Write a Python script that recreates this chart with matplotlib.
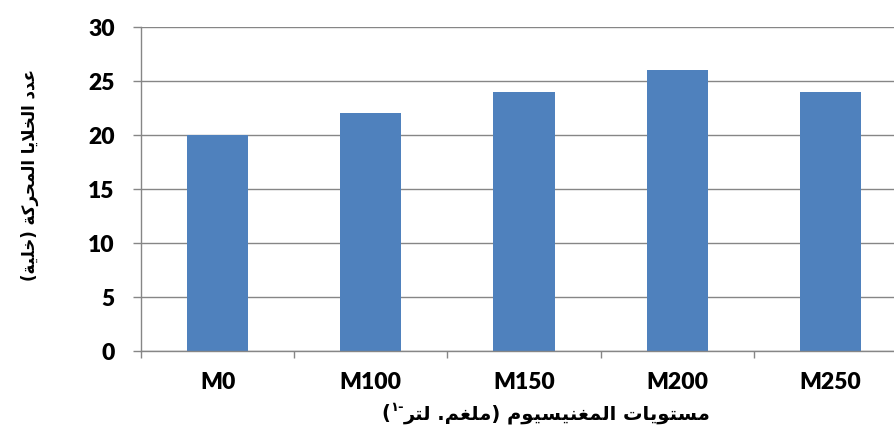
import numpy as np
import matplotlib.pyplot as plt

levels = ['M0', 'M100', 'M150', 'M200', 'M250']
cells = [20, 22, 24, 26, 24]
yticks = [0, 5, 10, 15, 20, 25, 30]

ylabel = 'عدد الخلايا المحركة (خلية)'
xlabel = 'مستويات المغنيسيوم (ملغم. لتر'
xlabel_sup = '-١'

# Arabic presentation forms: first code point of each letter
# dual-joining letters have 4 forms (isol, fin, init, medi), right-joining have 2
DUAL = {'ب': 0xFE8F, 'ت': 0xFE95, 'ح': 0xFEA1, 'خ': 0xFEA5, 'س': 0xFEB1,
        'ع': 0xFEC9, 'غ': 0xFECD, 'ك': 0xFED9, 'ل': 0xFEDD, 'م': 0xFEE1,
        'ن': 0xFEE5, 'ي': 0xFEF1}
RIGHT = {'ا': 0xFE8D, 'ة': 0xFE93, 'د': 0xFEA9, 'ر': 0xFEAD, 'و': 0xFEED}
MIRROR = {'(': ')', ')': '('}


def shape(s):
    out = []
    i = 0
    while i < len(s):
        c = s[i]
        joins_prev = i > 0 and s[i - 1] in DUAL
        if c == 'ل' and i + 1 < len(s) and s[i + 1] == 'ا':
            out.append(chr(0xFEFC if joins_prev else 0xFEFB))
            i += 2
            continue
        nxt = s[i + 1] if i + 1 < len(s) else ''
        joins_next = nxt in DUAL or nxt in RIGHT
        if c in DUAL:
            form = {(False, False): 0, (True, False): 1,
                    (False, True): 2, (True, True): 3}[(joins_prev, joins_next)]
            out.append(chr(DUAL[c] + form))
        elif c in RIGHT:
            out.append(chr(RIGHT[c] + (1 if joins_prev else 0)))
        else:
            out.append(c)
        i += 1
    return ''.join(out)


def rtl(s):
    # shape, then lay out right-to-left
    return ''.join(MIRROR.get(c, c) for c in reversed(shape(s)))


W, H = 895, 433
fig = plt.figure(figsize=(W / 100, H / 100), dpi=100)
ax = fig.add_axes([141 / W, 82 / H, 766 / W, 324 / H])

gray = '#868686'
x = np.arange(len(levels))
ax.bar(x, cells, width=0.4, color='#4F81BD', zorder=2)

ax.set_xlim(-0.5, len(levels) - 0.5)
ax.set_ylim(0, 30)
ax.set_yticks(yticks)
ax.yaxis.grid(True, color=gray, lw=1.0)
ax.set_axisbelow(True)

ax.set_xticks(np.arange(len(levels) + 1) - 0.5)
ax.set_xticklabels([])
ax.set_xticks(x, minor=True)
ax.set_xticklabels(levels, minor=True)
ax.tick_params(axis='x', which='major', length=5, width=1, color=gray, direction='out')
ax.tick_params(axis='x', which='minor', length=0, pad=15)
ax.tick_params(axis='y', length=6, width=1, color=gray, direction='out', pad=13)

for lab in ax.get_xticklabels(minor=True) + ax.get_yticklabels():
    lab.set_fontfamily('Lato')
    lab.set_fontweight('heavy')
    lab.set_fontsize(16.5)

for side in ['top', 'right']:
    ax.spines[side].set_visible(False)
for side in ['left', 'bottom']:
    ax.spines[side].set_color(gray)
    ax.spines[side].set_linewidth(1.0)

fig.text(30 / W, 1 - 175 / H, rtl(ylabel), rotation=90, ha='center', va='center',
         fontsize=12, fontweight='bold', family='DejaVu Sans')

# x label right to left: closing bracket, raised "1-", then the words
renderer = fig.canvas.get_renderer()
lab_kw = dict(va='baseline', fontweight='bold', family='DejaVu Sans')
base_y = 1 - 419 / H
br = fig.text(381 / W, base_y, MIRROR[')'], ha='left', fontsize=14, **lab_kw)
x_end = br.get_window_extent(renderer).x1
sup = fig.text(x_end / W, base_y + 8 / H, xlabel_sup[::-1], ha='left', fontsize=9.5, **lab_kw)
x_end = sup.get_window_extent(renderer).x1
fig.text(x_end / W, base_y, rtl(xlabel), ha='left', fontsize=14, **lab_kw)

fig.savefig('out.png', dpi=100)
